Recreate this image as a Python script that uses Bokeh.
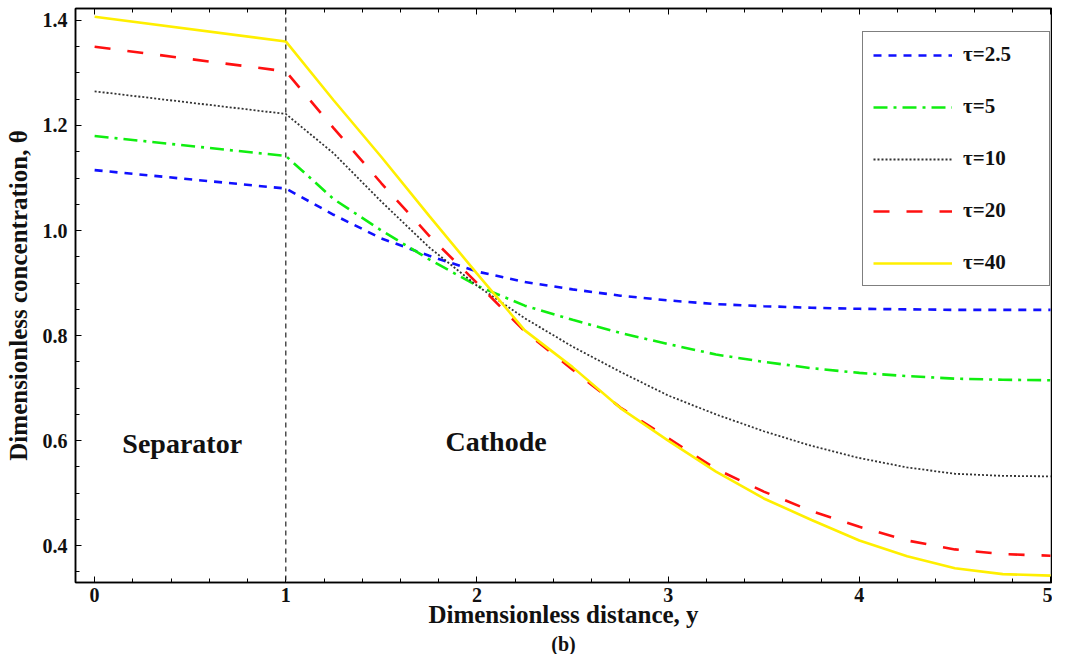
from bokeh.plotting import figure
from bokeh.models import (Range1d, LinearAxis, SingleIntervalTicker, Legend, LegendItem,
                          Span, Label, Title, PrintfTickFormatter, CustomJSTickFormatter)
from bokeh.embed import file_html
from bokeh.resources import INLINE

# ---- data ----
y_dist = [0, 1, 1.25, 1.5, 1.75, 2, 2.25, 2.5, 2.75, 3, 3.25, 3.5, 3.75, 4, 4.25, 4.5, 4.75, 5]
theta_2_5 = [1.115, 1.080, 1.030, 0.985, 0.952, 0.922, 0.902, 0.888, 0.876, 0.867, 0.860, 0.856, 0.853,
             0.851, 0.850, 0.849, 0.849, 0.849]
theta_5 = [1.180, 1.142, 1.060, 1.000, 0.945, 0.895, 0.857, 0.830, 0.805, 0.784, 0.764, 0.750, 0.738,
           0.729, 0.723, 0.718, 0.716, 0.715]
theta_10 = [1.265, 1.222, 1.147, 1.055, 0.968, 0.895, 0.833, 0.779, 0.731, 0.686, 0.650, 0.618, 0.590,
            0.567, 0.549, 0.537, 0.533, 0.532]
theta_20 = [1.350, 1.303, 1.195, 1.090, 0.990, 0.900, 0.808, 0.735, 0.663, 0.605, 0.546, 0.503, 0.466,
            0.436, 0.410, 0.393, 0.384, 0.381]
theta_40 = [1.407, 1.360, 1.248, 1.140, 1.028, 0.918, 0.810, 0.740, 0.662, 0.600, 0.541, 0.490, 0.449,
            0.410, 0.380, 0.357, 0.346, 0.343]
series_labels = ["τ=2.5", "τ=5", "τ=10", "τ=20", "τ=40"]
x_ticks_interval = 1
y_ticks_interval = 0.2

FONT = "Liberation Serif"
TXT = "#111111"

p = figure(width=1052, height=654, x_range=Range1d(-0.1, 5.005), y_range=Range1d(0.33, 1.4227),
           output_backend="svg", toolbar_location=None,
           min_border_left=75, min_border_right=1, min_border_top=8, min_border_bottom=10,
           x_axis_label="Dimensionless distance, y", y_axis_label="Dimensionless concentration, θ")
p.grid.visible = False
p.outline_line_color = "black"
p.outline_line_width = 1.5
p.background_fill_color = "white"
p.border_fill_color = "white"

p.xaxis.ticker = SingleIntervalTicker(interval=x_ticks_interval, num_minor_ticks=5)
p.yaxis.ticker = SingleIntervalTicker(interval=y_ticks_interval, num_minor_ticks=4)
p.yaxis.formatter = PrintfTickFormatter(format="%.1f")
for ax in (p.xaxis, p.yaxis):
    ax.major_tick_in = 6
    ax.major_tick_out = 0
    ax.minor_tick_in = 4
    ax.minor_tick_out = 0
    ax.axis_line_color = "black"
    ax.axis_line_width = 1.5
    ax.major_tick_line_color = "black"
    ax.minor_tick_line_color = "black"
    ax.major_label_text_font = FONT
    ax.major_label_text_font_style = "bold"
    ax.major_label_text_font_size = "20px"
    ax.major_label_text_color = TXT
    ax.axis_label_text_font = FONT
    ax.axis_label_text_font_style = "bold"
    ax.axis_label_text_color = TXT
p.xaxis.axis_label_text_font_size = "25px"
p.yaxis.axis_label_text_font_size = "25px"
p.xaxis.major_label_standoff = 5
p.xaxis.axis_label_standoff = -4
p.yaxis.major_label_standoff = 8
p.yaxis.axis_label_standoff = 8

top = LinearAxis(ticker=SingleIntervalTicker(interval=x_ticks_interval, num_minor_ticks=5),
                 formatter=CustomJSTickFormatter(code="return ''"),
                 major_tick_in=6, major_tick_out=0, minor_tick_in=4, minor_tick_out=0,
                 major_label_standoff=0, axis_line_color="black", axis_line_width=1.5)
p.add_layout(top, "above")

# panel caption below the x axis
p.add_layout(Title(text="(b)", align="center", text_font=FONT, text_font_style="bold",
                   text_font_size="20px", text_color=TXT, standoff=0), "below")

# separator / cathode boundary
p.add_layout(Span(location=1, dimension="height", line_color="#222222", line_dash="5 4", line_width=1.2))

styles = [
    dict(line_color="#1010ff", line_dash="8 7", line_width=2.6),
    dict(line_color="#10ee10", line_dash="14 6 3 6", line_width=2.6),
    dict(line_color="#333333", line_dash="2 2", line_width=1.8),
    dict(line_color="#ff1010", line_dash="16 17", line_width=2.6),
    dict(line_color="#ffef00", line_width=2.6),
]
all_series = [theta_2_5, theta_5, theta_10, theta_20, theta_40]
items = []
for lab, ys, st in zip(series_labels, all_series, styles):
    r = p.line(y_dist, ys, **st)
    items.append(LegendItem(label=lab, renderers=[r]))

legend = Legend(items=items, location=(787, 296),
                glyph_width=79, glyph_height=20, label_height=20, label_width=76,
                label_standoff=11, spacing=27, padding=10,
                label_text_font=FONT, label_text_font_style="bold", label_text_font_size="21px",
                label_text_color=TXT,
                border_line_color="black", border_line_width=1.5, background_fill_alpha=1)
p.add_layout(legend, "center")

for txt, xx, yy in [("Separator", 0.458, 0.595), ("Cathode", 2.10, 0.599)]:
    p.add_layout(Label(x=xx, y=yy, text=txt, text_font=FONT, text_font_style="bold",
                       text_font_size="28px", text_color=TXT, text_align="center",
                       text_baseline="middle"))

open("out.html", "w").write(file_html(p, INLINE))
